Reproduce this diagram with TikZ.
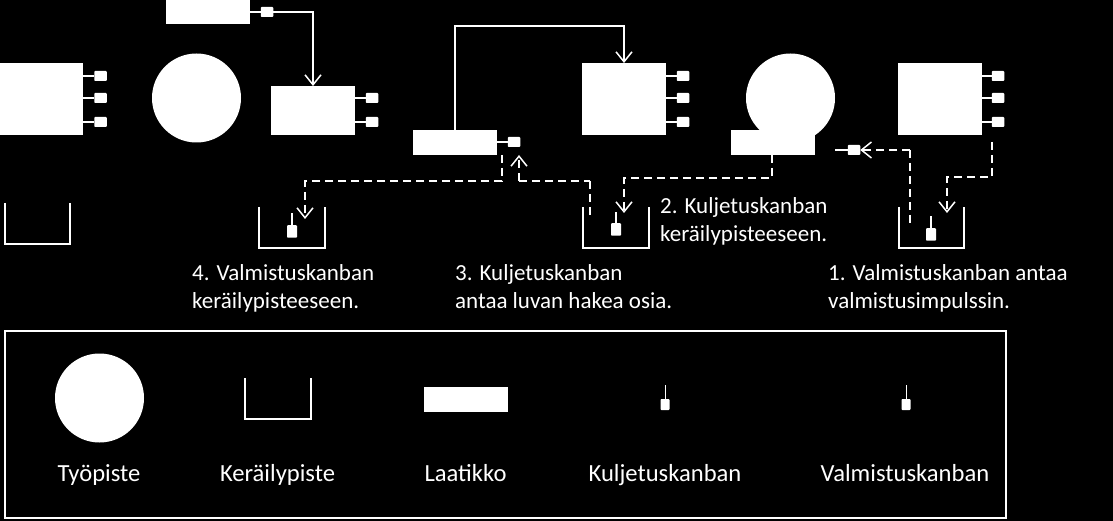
\documentclass[tikz,border=0pt]{standalone}
\usepackage{fontspec}
\setmainfont{Carlito}
\usetikzlibrary{arrows.meta}

\tikzset{
    station/.style={fill=white, inner sep=0pt, outer sep=0pt, minimum width=84pt, minimum height=72pt},
    crate/.style={fill=white, inner sep=0pt, outer sep=0pt, minimum width=84pt, minimum height=25pt},
    workpoint/.style={circle, fill=white, inner sep=0pt, outer sep=0pt, minimum size=89pt},
    tag/.style={fill=white, rounded corners=0.8pt, inner sep=0pt, outer sep=0pt, minimum width=12.5pt, minimum height=10pt},
    card/.style={fill=white, rounded corners=0.8pt, inner sep=0pt, outer sep=0pt, minimum width=10pt, minimum height=12.5pt},
    stem/.style={white, line width=1.3pt},
    flow/.style={white, line width=1.5pt, -{Straight Barb[length=10pt,width=16pt,line width=1.5pt]}},
    flowplain/.style={white, line width=1.5pt},
    signal/.style={flow, dash pattern=on 8pt off 5pt},
    signalplain/.style={flowplain, dash pattern=on 8pt off 5pt},
    bucket/.style={white, line width=1.5pt},
    caption/.style={white, font=\fontsize{23}{28.3}\selectfont, align=left, anchor=west, inner sep=0pt},
    legendtext/.style={white, font=\fontsize{24.6}{28}\selectfont, inner sep=0pt, anchor=base}
}

\begin{document}
\begin{tikzpicture}[x=1pt,y=-1pt]
    \fill[black] (0,0) rectangle (1113,521);
    \useasboundingbox (0,0) rectangle (1113,521);

    % stations
    \node[station] (boxA) at (41,99) {};
    \node[station, minimum height=49pt] (boxB) at (313,110.5) {};
    \node[station] (boxC) at (624,99) {};
    \node[station] (boxD) at (939.5,99) {};

    % work points
    \node[workpoint] (pointA) at (196.5,98) {};
    \node[workpoint] (pointB) at (790.5,98) {};

    % crates
    \node[crate] (crateA) at (208,12) {};
    \node[crate] (crateB) at (455,142.5) {};
    \node[crate] (crateC) at (772.5,142.5) {};

    % tags on the stations
    \foreach \ty/\n in {76/a,98/b,122/c} {
        \node[tag] (tagA\n) at (100.5,\ty) {};
        \draw[stem] (boxA.east |- tagA\n) -- (tagA\n);
        \node[tag] (tagC\n) at (683,\ty) {};
        \draw[stem] (boxC.east |- tagC\n) -- (tagC\n);
        \node[tag] (tagD\n) at (998,\ty) {};
        \draw[stem] (boxD.east |- tagD\n) -- (tagD\n);
    }
    \foreach \ty/\n in {98/b,122/c} {
        \node[tag] (tagB\n) at (372,\ty) {};
        \draw[stem] (boxB.east |- tagB\n) -- (tagB\n);
    }

    % tags on the crates
    \node[tag] (tagTop) at (267,12) {};
    \draw[stem] (crateA) -- (tagTop);
    \node[tag] (tagMid) at (514,142) {};
    \draw[stem] (crateB.east |- tagMid) -- (tagMid);

    % material flow
    \draw[flow] (tagTop) -| (boxB.north);
    \coordinate (riseC) at (624,26);
    \draw[flow] (crateB.north) |- (riseC) -- (boxC.north);

    % buckets
    \coordinate (bucketA) at (5,203);
    \coordinate (bucketB) at (259,207);
    \coordinate (bucketC) at (583,207);
    \coordinate (bucketD) at (899,207);
    \draw[bucket] (bucketA) -- ++(0,41) -- ++(65,0) -- ++(0,-41);
    \draw[bucket] (bucketB) -- ++(0,41) -- ++(66,0) -- ++(0,-41);
    \draw[bucket] (bucketC) -- ++(0,41) -- ++(66,0) -- ++(0,-41);
    \draw[bucket] (bucketD) -- ++(0,41) -- ++(65,0) -- ++(0,-41);

    % cards in the buckets
    \node[card] (cardB) at (292,231.5) {};
    \draw[stem] (cardB) -- ++(0,-18.5);
    \node[card] (cardC) at (616,229.5) {};
    \draw[stem] (cardC) -- ++(0,-17.5);
    \node[card] (cardD) at (931,234.5) {};
    \draw[stem] (cardD) -- ++(0,-18.5);

    % signal lines
    \coordinate (startB) at (502,155);
    \coordinate (busB) at (502,181);
    \coordinate (dropB) at (305,181);
    \coordinate (endB) at (305,219);
    \draw[signal] (startB) -- (busB) -- (dropB) -- (endB);

    \coordinate (riseM) at (519,181);
    \coordinate (endM) at (519,155);
    \coordinate (cornerM) at (590,181);
    \coordinate (stopM) at (590,216);
    \draw[signal] (riseM) -- (endM);
    \draw[signalplain] (riseM) -- (cornerM);
    \draw[signalplain] (cornerM) -- (stopM);

    \coordinate (turnC) at (772,178);
    \coordinate (dropC) at (624,178);
    \coordinate (endC) at (624,213);
    \draw[signal] (turnC |- crateC.south) -- (turnC) -- (dropC) -- (endC);

    \coordinate (startD) at (992,142);
    \coordinate (turnD) at (992,177);
    \coordinate (dropD) at (947,177);
    \coordinate (endD) at (947,213);
    \draw[signal] (startD) -- (turnD) -- (dropD) -- (endD);

    % returned card
    \node[card, minimum width=12.5pt, minimum height=10pt] (cardR) at (854,150) {};
    \coordinate (stemR) at (835,150);
    \draw[stem] (stemR) -- (cardR);
    \coordinate (cornerR) at (910,150);
    \coordinate (stopR) at (910,225);
    \draw[signal] (cornerR) -- (cardR.east);
    \draw[signalplain] (cornerR) -- (stopR);

    % captions
    \node[caption] (noteB) at (660,221.5) {2. Kuljetuskanban\\keräilypisteeseen.};
    \node[caption] (noteD) at (192,288.5) {4. Valmistuskanban\\keräilypisteeseen.};
    \node[caption] (noteC) at (455,286.5) {3. Kuljetuskanban\\antaa luvan hakea osia.};
    \node[caption] (noteA) at (828,288.5) {1. Valmistuskanban antaa\\valmistusimpulssin.};

    % legend
    \draw[white, line width=1.7pt] (5,331) rectangle (1006,518);
    \node[workpoint] (legendPoint) at (99.5,398) {};
    \coordinate (legendBucket) at (245,378);
    \draw[bucket] (legendBucket) -- ++(0,41) -- ++(66,0) -- ++(0,-41);
    \node[crate] (legendCrate) at (465.5,399.5) {};
    \node[card, minimum width=9pt, minimum height=11pt] (legendCardA) at (665,404.5) {};
    \draw[stem, line width=1pt] (legendCardA) -- ++(0,-19.5);
    \node[card, minimum width=9pt, minimum height=11pt] (legendCardB) at (906,404.5) {};
    \draw[stem, line width=1pt] (legendCardB) -- ++(0,-19.5);

    \node[legendtext] (textPoint) at (99,481) {Työpiste};
    \node[legendtext] (textBucket) at (277.5,481) {Keräilypiste};
    \node[legendtext] (textCrate) at (465.5,481) {Laatikko};
    \node[legendtext] (textCardA) at (665,481) {Kuljetuskanban};
    \node[legendtext] (textCardB) at (905,481) {Valmistuskanban};
\end{tikzpicture}
\end{document}
